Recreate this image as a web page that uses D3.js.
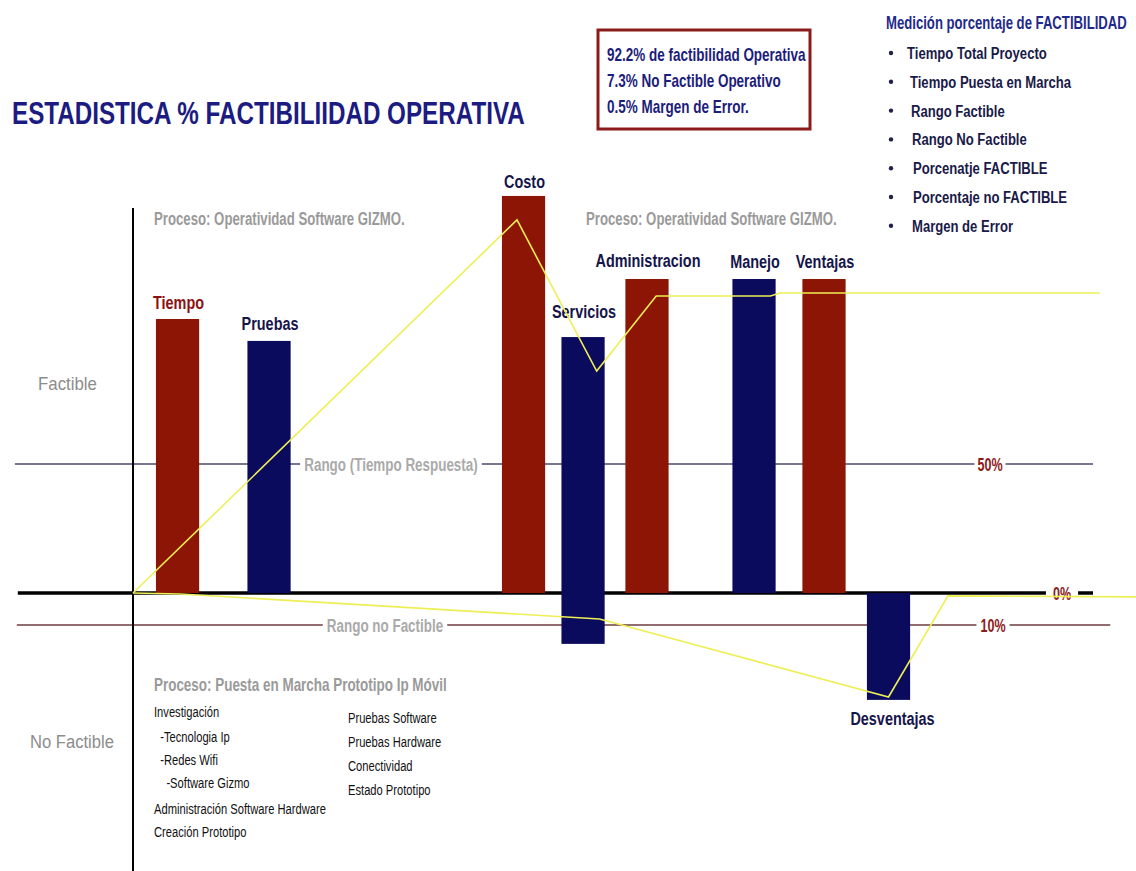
<!DOCTYPE html>
<html>
<head>
<meta charset="utf-8">
<script src="https://cdn.jsdelivr.net/npm/d3@7"></script>
<style>
  body { margin: 0; background: #fff; }
</style>
</head>
<body>
<svg id="chart"></svg>
<script>
// ---- data ----
const categories = ["Tiempo", "Pruebas", "Costo", "Servicios", "Administracion", "Manejo", "Ventajas", "Desventajas"];
const positions  = [4.64, 14.17, 40.68, 46.88, 53.54, 64.69, 71.98, 78.70];   // along the base line, 0..100
const barStart   = [0, 0, 0, -15.9, 0, 0, 0, 0];
const barEnd     = [106.2, 97.7, 153.9, 99.2, 121.7, 121.7, 121.7, -33.4];
const barKind    = ["rojo", "azul", "rojo", "azul", "rojo", "azul", "rojo", "azul"];

// yellow trend lines
const trendUpX   = [0, 40.0, 48.3, 54.5, 66.4, 67.4, 100.7];
const trendUpY   = [0, 144.6, 86.0, 115.1, 115.1, 116.3, 116.3];
const trendDownX = [0, 4.9, 48.6, 78.7, 84.9, 104.5];
const trendDownY = [0, -0.3, -8.1, -32.5, -0.9, -1.2];

// reference levels
const refLevels = [50, 0, -10];
const refLabels = ["50%", "0%", "10%"];
const rangeLabels = ["Rango (Tiempo Respuesta)", "", "Rango no Factible"];

const boxLines = ["92.2% de factibilidad Operativa", "7.3% No Factible Operativo", "0.5% Margen de Error."];
const legendTitle = "Medición porcentaje de FACTIBILIDAD";
const legendItems = ["Tiempo Total Proyecto", "Tiempo Puesta en Marcha", "Rango Factible", "Rango No Factible",
                     "Porcenatje FACTIBLE", "Porcentaje no FACTIBLE", "Margen de Error"];
const stepsLeft  = ["Investigación", "  -Tecnologia Ip", "  -Redes Wifi", "    -Software Gizmo",
                    "Administración Software Hardware", "Creación Prototipo"];
const stepsRight = ["Pruebas Software", "Pruebas Hardware", "Conectividad", "Estado Prototipo"];

// ---- drawing ----
const width = 1136, height = 871;
const red = "#8c1505", navy = "#0b0b5e", labelNavy = "#15154a", grey = "#9a9a9a";

const svg = d3.select("#chart").attr("width", width).attr("height", height)
  .style("font-family", "'Liberation Sans', Arial, sans-serif");

const x = d3.scaleLinear().domain([0, 100]).range([133, 1093]);
const y = d3.scaleLinear().domain([-10, 0, 50]).range([625, 593, 464]);

// no narrow face is installed, so squeeze the glyphs horizontally around their x
function condense(sel, k) {
  sel.each(function () {
    const x0 = +this.getAttribute("x");
    d3.select(this).attr("transform", `translate(${x0 * (1 - k)},0) scale(${k},1)`);
  });
  return sel;
}
function condenseTo(sel, w) {
  sel.each(function () {
    const k = w / this.getComputedTextLength();
    condense(d3.select(this), k);
  });
  return sel;
}

// title
svg.append("text")
  .attr("x", 12).attr("y", 124)
  .attr("font-weight", "bold").attr("font-size", 32)
  .attr("fill", "#1b1b82")
  .text("ESTADISTICA % FACTIBILIIDAD OPERATIVA")
  .call(condenseTo, 513);

// box
svg.append("rect")
  .attr("x", 598).attr("y", 30).attr("width", 212).attr("height", 99)
  .attr("fill", "white").attr("stroke", "#8b1a1a").attr("stroke-width", 3);
svg.append("g").selectAll("text").data(boxLines).join("text")
  .attr("x", 607).attr("y", (d, i) => 61 + i * 26)
  .attr("font-weight", "bold").attr("font-size", 18)
  .attr("fill", "#1c1c7a")
  .text(d => d)
  .call(condense, 0.75);

// legend
svg.append("text")
  .attr("x", 886).attr("y", 29)
  .attr("font-weight", "bold").attr("font-size", 18)
  .attr("fill", "#1f2a8a")
  .text(legendTitle)
  .call(condense, 0.73);
const legendIndent = [907, 910, 911, 912, 913, 913, 912];
const li = svg.append("g").selectAll("g").data(legendItems).join("g");
li.append("circle")
  .attr("cx", 891).attr("cy", (d, i) => 53 + i * 28.8).attr("r", 2.2)
  .attr("fill", "#20204a");
li.append("text")
  .attr("x", (d, i) => legendIndent[i]).attr("y", (d, i) => 59 + i * 28.8)
  .attr("font-weight", "bold").attr("font-size", 17)
  .attr("fill", "#1a1a48")
  .text(d => d)
  .call(condense, 0.77);

// process captions
const captionAt = [[154, 225], [586, 225]];
svg.append("g").selectAll("text").data(captionAt).join("text")
  .attr("x", d => d[0]).attr("y", d => d[1])
  .attr("font-weight", "bold").attr("font-size", 18)
  .attr("fill", grey)
  .text("Proceso: Operatividad Software GIZMO.")
  .call(condense, 0.734);

svg.append("text")
  .attr("x", 154).attr("y", 691)
  .attr("font-weight", "bold").attr("font-size", 18)
  .attr("fill", grey)
  .text("Proceso: Puesta en Marcha Prototipo Ip Móvil")
  .call(condense, 0.747);

// zone labels
svg.append("text").attr("x", 38).attr("y", 390)
  .attr("font-size", 19).attr("fill", "#8c8c8c")
  .text("Factible")
  .call(condenseTo, 59);
svg.append("text").attr("x", 30).attr("y", 748)
  .attr("font-size", 19).attr("fill", "#8c8c8c")
  .text("No Factible")
  .call(condenseTo, 84);

// step lists
const stepLeftY = [717, 742, 765, 788, 814, 837];
svg.append("g").selectAll("text").data(stepsLeft).join("text")
  .attr("x", 154).attr("y", (d, i) => stepLeftY[i])
  .attr("font-size", 15).attr("fill", "#111")
  .attr("xml:space", "preserve")
  .text(d => d)
  .call(condense, 0.745);
svg.append("g").selectAll("text").data(stepsRight).join("text")
  .attr("x", 348).attr("y", (d, i) => 723 + i * 24)
  .attr("font-size", 15).attr("fill", "#111")
  .text(d => d)
  .call(condense, 0.745);

// reference lines
const refColor = ["#4a4a6c", "#000", "#6e3d3d"];
const refWidth = [1.6, 3.5, 1.6];
const refX0 = [-12.3, -12.0, -12.1];
const refX1 = [100, 100, 101.8];
const refLabelX = [990, 1062, 993];
const refLabelPad = [3, 7, 4];
const rangeLabelX = [391, 0, 385];

const refs = svg.append("g").selectAll("g").data(refLevels).join("g");
refs.append("line")
  .attr("x1", (d, i) => x(refX0[i])).attr("x2", (d, i) => x(refX1[i]))
  .attr("y1", d => y(d)).attr("y2", d => y(d))
  .attr("stroke", (d, i) => refColor[i]).attr("stroke-width", (d, i) => refWidth[i]);

function gapLabel(g, tx, ty, txt, color, size, pad, k) {
  const t = g.append("text")
    .attr("x", tx).attr("y", ty + 7)
    .attr("text-anchor", "middle")
    .attr("font-weight", "bold").attr("font-size", size)
    .attr("fill", color)
    .text(txt);
  const w = t.node().getComputedTextLength() * k;
  condense(t, k);
  g.insert("rect", "text")
    .attr("x", tx - w / 2 - pad).attr("y", ty - 4)
    .attr("width", w + 2 * pad).attr("height", 8)
    .attr("fill", "white");
}

// vertical axis
svg.append("line")
  .attr("x1", x(0)).attr("x2", x(0))
  .attr("y1", 208).attr("y2", height)
  .attr("stroke", "#000").attr("stroke-width", 2);

// bars
svg.append("g").selectAll("rect").data(categories).join("rect")
  .attr("x", (d, i) => x(positions[i] - 2.25))
  .attr("width", x(4.5) - x(0))
  .attr("y", (d, i) => y(Math.max(barStart[i], barEnd[i])))
  .attr("height", (d, i) => Math.abs(y(barStart[i]) - y(barEnd[i])))
  .attr("fill", (d, i) => barKind[i] === "rojo" ? red : navy);

// labels on reference lines (drawn after bars so the gaps sit on top)
const labelLayer = svg.append("g");
refLevels.forEach((lv, i) => {
  const g = labelLayer.append("g");
  gapLabel(g, refLabelX[i], y(lv), refLabels[i], "#8b1a1a", 19, refLabelPad[i], 0.66);
  if (rangeLabels[i]) gapLabel(g, rangeLabelX[i], y(lv), rangeLabels[i], "#aaaaaa", 19, 4, 0.707);
});

// bar labels
const labelGap = [10, 11, 8, 19, 12, 11, 11, -25];
svg.append("g").selectAll("text").data(categories).join("text")
  .attr("x", (d, i) => x(positions[i]) + (i === 7 ? 4 : 1))
  .attr("y", (d, i) => {
    const top = y(Math.max(barStart[i], barEnd[i]));
    const bottom = y(Math.min(barStart[i], barEnd[i]));
    return barEnd[i] < 0 ? bottom - labelGap[i] : top - labelGap[i];
  })
  .attr("text-anchor", "middle")
  .attr("font-weight", "bold").attr("font-size", 19)
  .attr("fill", (d, i) => i === 0 ? "#8b1212" : labelNavy)
  .text(d => d)
  .call(condense, 0.76);

// yellow trend lines
const line = d3.line().x(d => x(d[0])).y(d => y(d[1]));
svg.append("path")
  .datum(d3.zip(trendUpX, trendUpY))
  .attr("d", line)
  .attr("fill", "none").attr("stroke", "#eeee55").attr("stroke-width", 1.6);
svg.append("path")
  .datum(d3.zip(trendDownX, trendDownY))
  .attr("d", line)
  .attr("fill", "none").attr("stroke", "#eeee55").attr("stroke-width", 1.6);
</script>
</body>
</html>
